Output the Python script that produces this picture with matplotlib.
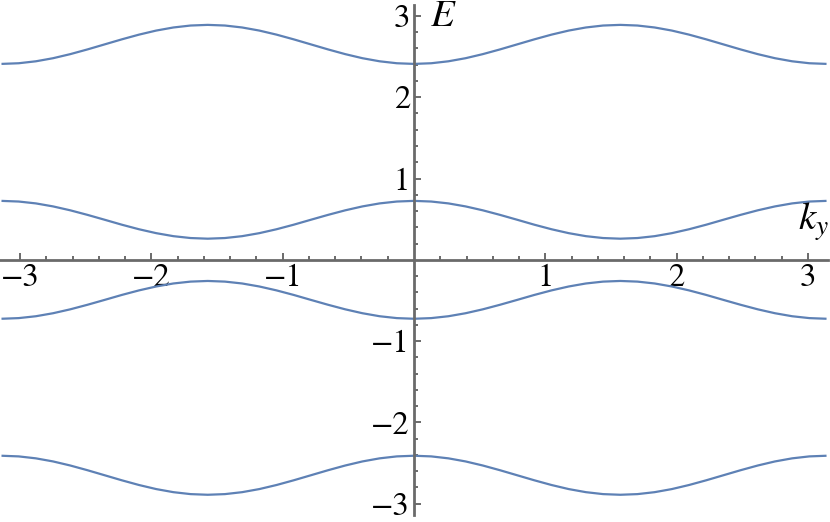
import numpy as np
import matplotlib
matplotlib.use('Agg')
import matplotlib.pyplot as plt
from matplotlib.ticker import FixedLocator

plt.rcParams.update({
    'font.family': 'STIXGeneral',
    'mathtext.fontset': 'stix',
    'axes.unicode_minus': True,
})

# ===================== DATA =====================
# k_y sampled every pi/24 on [-pi, pi]
k_y = np.linspace(-np.pi, np.pi, 49)

band_1 = [2.41, 2.418, 2.442, 2.48, 2.53, 2.588, 2.65, 2.712, 2.77, 2.82, 2.858, 2.882, 2.89,
          2.882, 2.858, 2.82, 2.77, 2.712, 2.65, 2.588, 2.53, 2.48, 2.442, 2.418, 2.41,
          2.418, 2.442, 2.48, 2.53, 2.588, 2.65, 2.712, 2.77, 2.82, 2.858, 2.882, 2.89,
          2.882, 2.858, 2.82, 2.77, 2.712, 2.65, 2.588, 2.53, 2.48, 2.442, 2.418, 2.41]

band_2 = [0.725, 0.717, 0.694, 0.657, 0.609, 0.553, 0.493, 0.432, 0.376, 0.328, 0.291, 0.268, 0.26,
          0.268, 0.291, 0.328, 0.376, 0.432, 0.493, 0.553, 0.609, 0.657, 0.694, 0.717, 0.725,
          0.717, 0.694, 0.657, 0.609, 0.553, 0.493, 0.432, 0.376, 0.328, 0.291, 0.268, 0.26,
          0.268, 0.291, 0.328, 0.376, 0.432, 0.493, 0.553, 0.609, 0.657, 0.694, 0.717, 0.725]

band_3 = [-0.725, -0.717, -0.694, -0.657, -0.609, -0.553, -0.493, -0.432, -0.376, -0.328, -0.291, -0.268, -0.26,
          -0.268, -0.291, -0.328, -0.376, -0.432, -0.493, -0.553, -0.609, -0.657, -0.694, -0.717, -0.725,
          -0.717, -0.694, -0.657, -0.609, -0.553, -0.493, -0.432, -0.376, -0.328, -0.291, -0.268, -0.26,
          -0.268, -0.291, -0.328, -0.376, -0.432, -0.493, -0.553, -0.609, -0.657, -0.694, -0.717, -0.725]

band_4 = [-2.41, -2.418, -2.442, -2.48, -2.53, -2.588, -2.65, -2.712, -2.77, -2.82, -2.858, -2.882, -2.89,
          -2.882, -2.858, -2.82, -2.77, -2.712, -2.65, -2.588, -2.53, -2.48, -2.442, -2.418, -2.41,
          -2.418, -2.442, -2.48, -2.53, -2.588, -2.65, -2.712, -2.77, -2.82, -2.858, -2.882, -2.89,
          -2.882, -2.858, -2.82, -2.77, -2.712, -2.65, -2.588, -2.53, -2.48, -2.442, -2.418, -2.41]

x_ticks = [-3, -2, -1, 1, 2, 3]
y_ticks = [-3, -2, -1, 1, 2, 3]
minor_ticks = [t / 5 for t in range(-15, 16) if t % 5 != 0]

# ===================== PLOT =====================
line_color = '#5E81B5'
axis_color = '#6a6a6a'

fig = plt.figure(figsize=(8.3, 5.22), dpi=100)
ax = fig.add_axes([0, 0, 1, 1])

for band in (band_1, band_2, band_3, band_4):
    ax.plot(k_y, band, color=line_color, lw=1.6, solid_capstyle='butt')

ax.set_xlim(-3.153, 3.168)
ax.set_ylim(-3.225, 3.196)

# axes through the origin
for side in ('top', 'right'):
    ax.spines[side].set_visible(False)
ax.spines['left'].set_position(('data', 0))
ax.spines['bottom'].set_position(('data', 0))
ax.spines['left'].set_bounds(-3.14, 3.14)
ax.spines['bottom'].set_bounds(-3.15, 3.15)
for side in ('left', 'bottom'):
    ax.spines[side].set_color(axis_color)
    ax.spines[side].set_linewidth(2.0)

ax.xaxis.set_major_locator(FixedLocator(x_ticks))
ax.yaxis.set_major_locator(FixedLocator(y_ticks))
ax.xaxis.set_minor_locator(FixedLocator(minor_ticks))
ax.yaxis.set_minor_locator(FixedLocator(minor_ticks))
ax.tick_params(which='both', direction='in', color=axis_color, width=1.4)
ax.tick_params(which='major', length=5, labelsize=23.5, pad=3)
ax.tick_params(which='minor', length=2.8)

ax.text(0.12, 3.20, '$E$', fontsize=28, ha='left', va='top')
ax.text(3.158, 0.37, '$k_y$', fontsize=28, ha='right', va='baseline')

ax.patch.set_alpha(0)
fig.savefig('out.png', dpi=100)
plt.close(fig)
